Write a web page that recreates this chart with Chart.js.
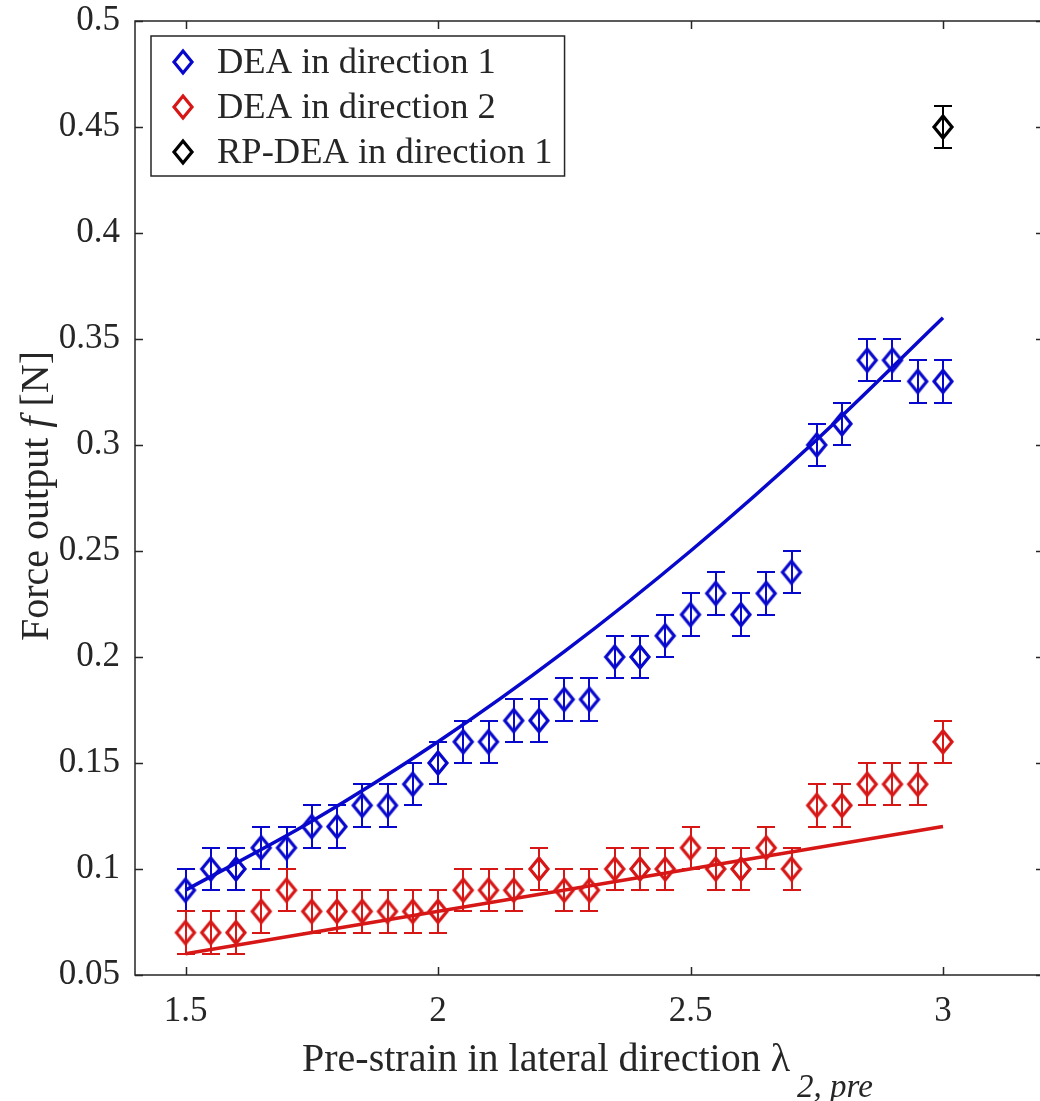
<!DOCTYPE html>
<html>
<head>
<meta charset="utf-8">
<script src="https://cdn.jsdelivr.net/npm/chart.js@4.4.0/dist/chart.umd.min.js"></script>
<style>
  html, body { margin: 0; padding: 0; background: #fff; overflow: hidden; }
  canvas { display: block; }
</style>
</head>
<body>
<!-- the axes box runs a few pixels past the right edge of the window -->
<canvas id="force_chart" width="1044" height="1101"></canvas>
<script>
// measured pre-strain values and force outputs
const strain = [1.5, 1.55, 1.6, 1.65, 1.7, 1.75, 1.8, 1.85, 1.9, 1.95, 2.0, 2.05, 2.1, 2.15, 2.2, 2.25,
                2.3, 2.35, 2.4, 2.45, 2.5, 2.55, 2.6, 2.65, 2.7, 2.75, 2.8, 2.85, 2.9, 2.95, 3.0];
const forceDir1 = [0.09, 0.10, 0.10, 0.11, 0.11, 0.12, 0.12, 0.13, 0.13, 0.14, 0.15, 0.16, 0.16, 0.17, 0.17, 0.18,
                   0.18, 0.20, 0.20, 0.21, 0.22, 0.23, 0.22, 0.23, 0.24, 0.30, 0.31, 0.34, 0.34, 0.33, 0.33];
const forceDir2 = [0.07, 0.07, 0.07, 0.08, 0.09, 0.08, 0.08, 0.08, 0.08, 0.08, 0.08, 0.09, 0.09, 0.09, 0.10, 0.09,
                   0.09, 0.10, 0.10, 0.10, 0.11, 0.10, 0.10, 0.11, 0.10, 0.13, 0.13, 0.14, 0.14, 0.14, 0.16];
const strainRP = [3.0];
const forceRP = [0.45];
const errorBar = 0.01;

// model curves
const fitStrain1 = [1.5, 1.75, 2.0, 2.25, 2.5, 2.75, 3.0];
const fitDir1 = [0.09, 0.1225, 0.16, 0.2025, 0.25, 0.3025, 0.36];
const fitStrain2 = [1.5, 3.0];
const fitDir2 = [0.06, 0.12];

const xTickValues = [1.5, 2, 2.5, 3];
const yTickValues = [0.05, 0.1, 0.15, 0.2, 0.25, 0.3, 0.35, 0.4, 0.45, 0.5];

const legendLabels = ['DEA in direction 1', 'DEA in direction 2', 'RP-DEA in direction 1'];

const BLUE = 'rgb(8,8,205)';
const RED = 'rgb(215,22,22)';
const BLACK = '#000000';
const AXIS = '#262626';
const SERIF = '"Liberation Serif", "Times New Roman", serif';

const pairs = (xs, ys) => xs.map((x, i) => ({ x: x, y: ys[i] }));

// slightly tall open diamond, like the matlab 'd' marker
function strokeDiamond(ctx, cx, cy, color) {
    ctx.strokeStyle = color;
    ctx.lineWidth = 3.2;
    ctx.lineJoin = 'miter';
    ctx.beginPath();
    ctx.moveTo(cx, cy - 11);
    ctx.lineTo(cx + 9, cy);
    ctx.lineTo(cx, cy + 11);
    ctx.lineTo(cx - 9, cy);
    ctx.closePath();
    ctx.stroke();
}

function diamondImage(color) {
    const c = document.createElement('canvas');
    c.width = 26;
    c.height = 30;
    strokeDiamond(c.getContext('2d'), 13, 15, color);
    return c;
}

const markerSet = (label, xs, ys, color) => ({
    label: label,
    data: pairs(xs, ys),
    showLine: false,
    pointStyle: diamondImage(color),
    pointRadius: 12,
    borderColor: color,
    errorBars: true,
    order: 2
});

const fitSet = (xs, ys, color) => ({
    data: pairs(xs, ys),
    showLine: true,
    borderColor: color,
    borderWidth: 3.5,
    pointRadius: 0,
    cubicInterpolationMode: 'monotone',
    fill: false,
    order: 1
});

// vertical error bars with caps
const errorBarPlugin = {
    id: 'errorBars',
    afterDatasetsDraw(chart) {
        const ctx = chart.ctx;
        const xs = chart.scales.x, ys = chart.scales.y;
        ctx.save();
        chart.data.datasets.forEach(ds => {
            if (!ds.errorBars) return;
            ctx.strokeStyle = ds.borderColor;
            ctx.lineWidth = 2;
            ds.data.forEach(p => {
                const px = Math.round(xs.getPixelForValue(p.x));
                const top = Math.round(ys.getPixelForValue(p.y + errorBar));
                const bot = Math.round(ys.getPixelForValue(p.y - errorBar));
                ctx.beginPath();
                ctx.moveTo(px, top); ctx.lineTo(px, bot);
                ctx.moveTo(px - 9, top); ctx.lineTo(px + 9, top);
                ctx.moveTo(px - 9, bot); ctx.lineTo(px + 9, bot);
                ctx.stroke();
            });
        });
        ctx.restore();
    }
};

// box, inward ticks, axis titles and the legend
const framePlugin = {
    id: 'frame',
    afterDraw(chart) {
        const ctx = chart.ctx;
        const a = chart.chartArea;
        const xs = chart.scales.x, ys = chart.scales.y;
        ctx.save();
        ctx.strokeStyle = AXIS;
        ctx.lineWidth = 1.5;
        ctx.strokeRect(a.left, a.top, a.right - a.left, a.bottom - a.top);
        ctx.beginPath();
        xTickValues.forEach(v => {
            const px = Math.round(xs.getPixelForValue(v)) + 0.5;
            ctx.moveTo(px, a.bottom); ctx.lineTo(px, a.bottom - 8);
            ctx.moveTo(px, a.top); ctx.lineTo(px, a.top + 8);
        });
        yTickValues.forEach(v => {
            const py = Math.round(ys.getPixelForValue(v)) + 0.5;
            ctx.moveTo(a.left, py); ctx.lineTo(a.left + 8, py);
            ctx.moveTo(a.right, py); ctx.lineTo(a.right - 8, py);
        });
        ctx.stroke();

        // x title with subscript
        ctx.fillStyle = AXIS;
        ctx.textBaseline = 'alphabetic';
        ctx.textAlign = 'left';
        const main = 'Pre-strain in lateral direction \u03bb';
        const sub = '2, pre';
        const mainFont = '40px ' + SERIF;
        const subFont = 'italic 33px ' + SERIF;
        const x0 = a.left + 167;
        ctx.font = mainFont;
        const wMain = ctx.measureText(main).width;
        ctx.fillText(main, x0, 1071);
        ctx.font = subFont;
        ctx.fillText(sub, x0 + wMain + 7, 1097);

        // y title, rotated
        ctx.save();
        ctx.translate(48, (a.top + a.bottom) / 2 - 2);
        ctx.rotate(-Math.PI / 2);
        const parts = [['Force output ', '40px '], ['f', 'italic 40px '], [' [N]', '40px ']];
        let total = 0;
        parts.forEach(p => { ctx.font = p[1] + SERIF; total += ctx.measureText(p[0]).width; });
        let cx = -total / 2;
        parts.forEach(p => {
            ctx.font = p[1] + SERIF;
            ctx.fillText(p[0], cx, 0);
            cx += ctx.measureText(p[0]).width;
        });
        ctx.restore();

        // legend box
        const colors = [BLUE, RED, BLACK];
        ctx.font = '36.5px ' + SERIF;
        const textW = Math.max(...legendLabels.map(t => ctx.measureText(t).width));
        const bx = 151, by = 36, bh = 140;
        const bw = 217 - bx + textW + 12;
        ctx.fillStyle = '#ffffff';
        ctx.fillRect(bx, by, bw, bh);
        ctx.strokeStyle = AXIS;
        ctx.lineWidth = 1.5;
        ctx.strokeRect(bx, by, bw, bh);
        legendLabels.forEach((t, i) => {
            const cy = 62 + i * 45;
            strokeDiamond(ctx, 183, cy, colors[i]);
            ctx.fillStyle = AXIS;
            ctx.textBaseline = 'middle';
            ctx.fillText(t, 217, cy + 1);
        });
        ctx.restore();
    }
};

const tickFont = { family: SERIF, size: 35 };

new Chart(document.getElementById('force_chart'), {
    type: 'scatter',
    data: {
        datasets: [
            fitSet(fitStrain1, fitDir1, BLUE),
            fitSet(fitStrain2, fitDir2, RED),
            markerSet(legendLabels[0], strain, forceDir1, BLUE),
            markerSet(legendLabels[1], strain, forceDir2, RED),
            markerSet(legendLabels[2], strainRP, forceRP, BLACK)
        ]
    },
    options: {
        responsive: false,
        animation: false,
        devicePixelRatio: 1,
        layout: { autoPadding: false, padding: { top: 21, right: 0, left: 0, bottom: 0 } },
        plugins: {
            legend: { display: false },
            tooltip: { enabled: false }
        },
        scales: {
            x: {
                type: 'linear',
                min: 1.4,
                max: 3.2,
                afterBuildTicks: s => { s.ticks = xTickValues.map(v => ({ value: v })); },
                afterFit: s => { s.height = 126; s.paddingLeft = 0; s.paddingRight = 0; },
                grid: { display: false, drawTicks: false },
                border: { display: false },
                ticks: { font: tickFont, color: AXIS, padding: 16, maxRotation: 0, callback: v => String(v) }
            },
            y: {
                type: 'linear',
                min: 0.05,
                max: 0.5,
                afterBuildTicks: s => { s.ticks = yTickValues.map(v => ({ value: v })); },
                afterFit: s => { s.width = 135; s.paddingTop = 0; s.paddingBottom = 0; },
                grid: { display: false, drawTicks: false },
                border: { display: false },
                ticks: { font: tickFont, color: AXIS, padding: 15, callback: v => String(v) }
            }
        }
    },
    plugins: [errorBarPlugin, framePlugin]
});
</script>
</body>
</html>
